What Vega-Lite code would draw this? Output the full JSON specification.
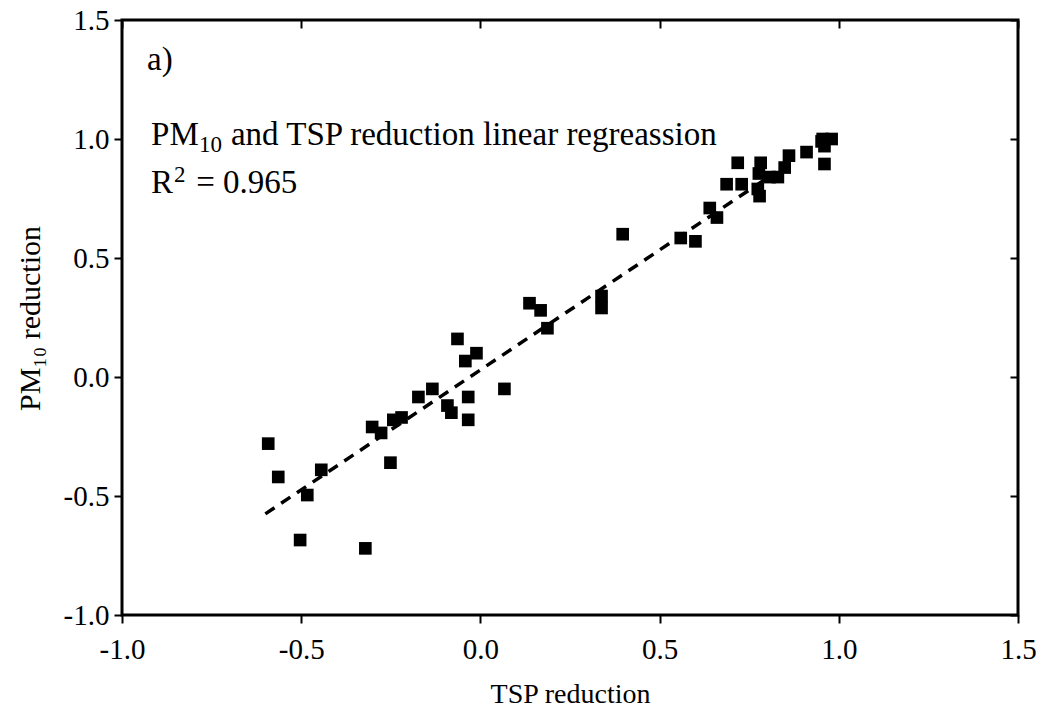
{
  "$schema": "https://vega.github.io/schema/vega-lite/v6.json",
  "width": 896,
  "height": 595,
  "autosize": "none",
  "padding": {"left": 122, "top": 20, "right": 27, "bottom": 97},
  "background": "white",
  "config": {
    "view": {"stroke": "black", "strokeWidth": 3},
    "font": "Liberation Serif",
    "axis": {
      "grid": false,
      "domain": false,
      "ticks": true,
      "tickColor": "black",
      "tickWidth": 2,
      "labelFont": "Liberation Serif",
      "labelFontSize": 29,
      "labelColor": "black",
      "titleFont": "Liberation Serif",
      "titleFontSize": 28,
      "titleFontWeight": "normal",
      "titleColor": "black"
    }
  },
  "resolve": {"axis": {"x": "independent", "y": "independent"}},
  "layer": [
    {
      "data": {"values": [
        {"tsp": -0.592, "pm10": -0.28},
        {"tsp": -0.564, "pm10": -0.42},
        {"tsp": -0.483, "pm10": -0.496},
        {"tsp": -0.444, "pm10": -0.39},
        {"tsp": -0.503, "pm10": -0.685},
        {"tsp": -0.321, "pm10": -0.72},
        {"tsp": -0.251, "pm10": -0.36},
        {"tsp": -0.302, "pm10": -0.21},
        {"tsp": -0.277, "pm10": -0.235},
        {"tsp": -0.243, "pm10": -0.18},
        {"tsp": -0.22, "pm10": -0.17},
        {"tsp": -0.173, "pm10": -0.084},
        {"tsp": -0.134, "pm10": -0.05},
        {"tsp": -0.092, "pm10": -0.12},
        {"tsp": -0.081, "pm10": -0.15},
        {"tsp": -0.064, "pm10": 0.16},
        {"tsp": -0.042, "pm10": 0.067},
        {"tsp": -0.034, "pm10": -0.084},
        {"tsp": -0.034, "pm10": -0.18},
        {"tsp": -0.011, "pm10": 0.1},
        {"tsp": 0.067, "pm10": -0.05},
        {"tsp": 0.137, "pm10": 0.31},
        {"tsp": 0.168, "pm10": 0.28},
        {"tsp": 0.187, "pm10": 0.205},
        {"tsp": 0.338, "pm10": 0.34},
        {"tsp": 0.338, "pm10": 0.29},
        {"tsp": 0.397, "pm10": 0.6},
        {"tsp": 0.559, "pm10": 0.584},
        {"tsp": 0.6, "pm10": 0.57},
        {"tsp": 0.64, "pm10": 0.71},
        {"tsp": 0.66, "pm10": 0.67},
        {"tsp": 0.687, "pm10": 0.81},
        {"tsp": 0.729, "pm10": 0.81},
        {"tsp": 0.718, "pm10": 0.9},
        {"tsp": 0.782, "pm10": 0.9},
        {"tsp": 0.777, "pm10": 0.855},
        {"tsp": 0.779, "pm10": 0.76},
        {"tsp": 0.774, "pm10": 0.79},
        {"tsp": 0.807, "pm10": 0.84},
        {"tsp": 0.83, "pm10": 0.84},
        {"tsp": 0.849, "pm10": 0.88},
        {"tsp": 0.861, "pm10": 0.93},
        {"tsp": 0.91, "pm10": 0.945},
        {"tsp": 0.952, "pm10": 0.99},
        {"tsp": 0.955, "pm10": 1.0},
        {"tsp": 0.98, "pm10": 1.0},
        {"tsp": 0.96, "pm10": 0.97},
        {"tsp": 0.96, "pm10": 0.895}
      ]},
      "mark": {"type": "point", "shape": "square", "filled": true, "color": "black", "opacity": 1, "size": 160},
      "encoding": {
        "x": {"field": "tsp", "type": "quantitative",
          "scale": {"domain": [-1, 1.5], "nice": false, "zero": false},
          "axis": {"orient": "bottom", "values": [-1, -0.5, 0, 0.5, 1, 1.5], "labelExpr": "replace(format(datum.value, '.1f'), '−', '-')", "tickSize": 8, "labelPadding": 12, "title": "TSP reduction", "titlePadding": 16, "labelFlush": false, "labelOverlap": false}},
        "y": {"field": "pm10", "type": "quantitative",
          "scale": {"domain": [-1, 1.5], "nice": false, "zero": false},
          "axis": {"orient": "left", "values": [-1, -0.5, 0, 0.5, 1, 1.5], "labelExpr": "replace(format(datum.value, '.1f'), '−', '-')", "tickSize": 8, "labelPadding": 5, "title": "PM₁₀ reduction", "titleFontSize": 30, "titleX": -77, "titleY": 298, "titleAngle": -90, "titleBaseline": "bottom", "titleAlign": "center", "labelFlush": false, "labelOverlap": false}}
      }
    },
    {
      "data": {"values": [
        {"tsp": -0.6, "pm10": -0.575},
        {"tsp": 0.8, "pm10": 0.836}
      ]},
      "mark": {"type": "line", "color": "black", "strokeWidth": 3.5, "strokeDash": [11, 8], "strokeCap": "butt"},
      "encoding": {
        "x": {"field": "tsp", "type": "quantitative", "scale": {"domain": [-1, 1.5], "nice": false, "zero": false},
          "axis": {"orient": "top", "values": [-1, -0.5, 0, 0.5, 1, 1.5], "ticks": true, "tickSize": -8, "tickWidth": 2, "tickColor": "black", "labels": false, "title": null}},
        "y": {"field": "pm10", "type": "quantitative", "scale": {"domain": [-1, 1.5], "nice": false, "zero": false},
          "axis": {"orient": "right", "values": [-1, -0.5, 0, 0.5, 1, 1.5], "ticks": true, "tickSize": -8, "tickWidth": 2, "tickColor": "black", "labels": false, "title": null}}
      }
    },
    {
      "data": {"values": [
        {"tsp": -0.93, "pm10": 1.29, "label": "a)"},
        {"tsp": -0.919, "pm10": 0.975, "label": "PM"},
        {"tsp": -0.696, "pm10": 0.975, "label": "and TSP reduction linear regreassion"},
        {"tsp": -0.919, "pm10": 0.773, "label": "R"},
        {"tsp": -0.793, "pm10": 0.773, "label": "= 0.965"}
      ]},
      "mark": {"type": "text", "align": "left", "baseline": "alphabetic", "fontSize": 33, "font": "Liberation Serif", "color": "black"},
      "encoding": {
        "x": {"field": "tsp", "type": "quantitative", "axis": null},
        "y": {"field": "pm10", "type": "quantitative", "axis": null},
        "text": {"field": "label"}
      }
    },
    {
      "data": {"values": [
        {"tsp": -0.785, "pm10": 0.945, "label": "10"},
        {"tsp": -0.855, "pm10": 0.82, "label": "2"}
      ]},
      "mark": {"type": "text", "align": "left", "baseline": "alphabetic", "fontSize": 23, "font": "Liberation Serif", "color": "black"},
      "encoding": {
        "x": {"field": "tsp", "type": "quantitative", "axis": null},
        "y": {"field": "pm10", "type": "quantitative", "axis": null},
        "text": {"field": "label"}
      }
    }
  ]
}
